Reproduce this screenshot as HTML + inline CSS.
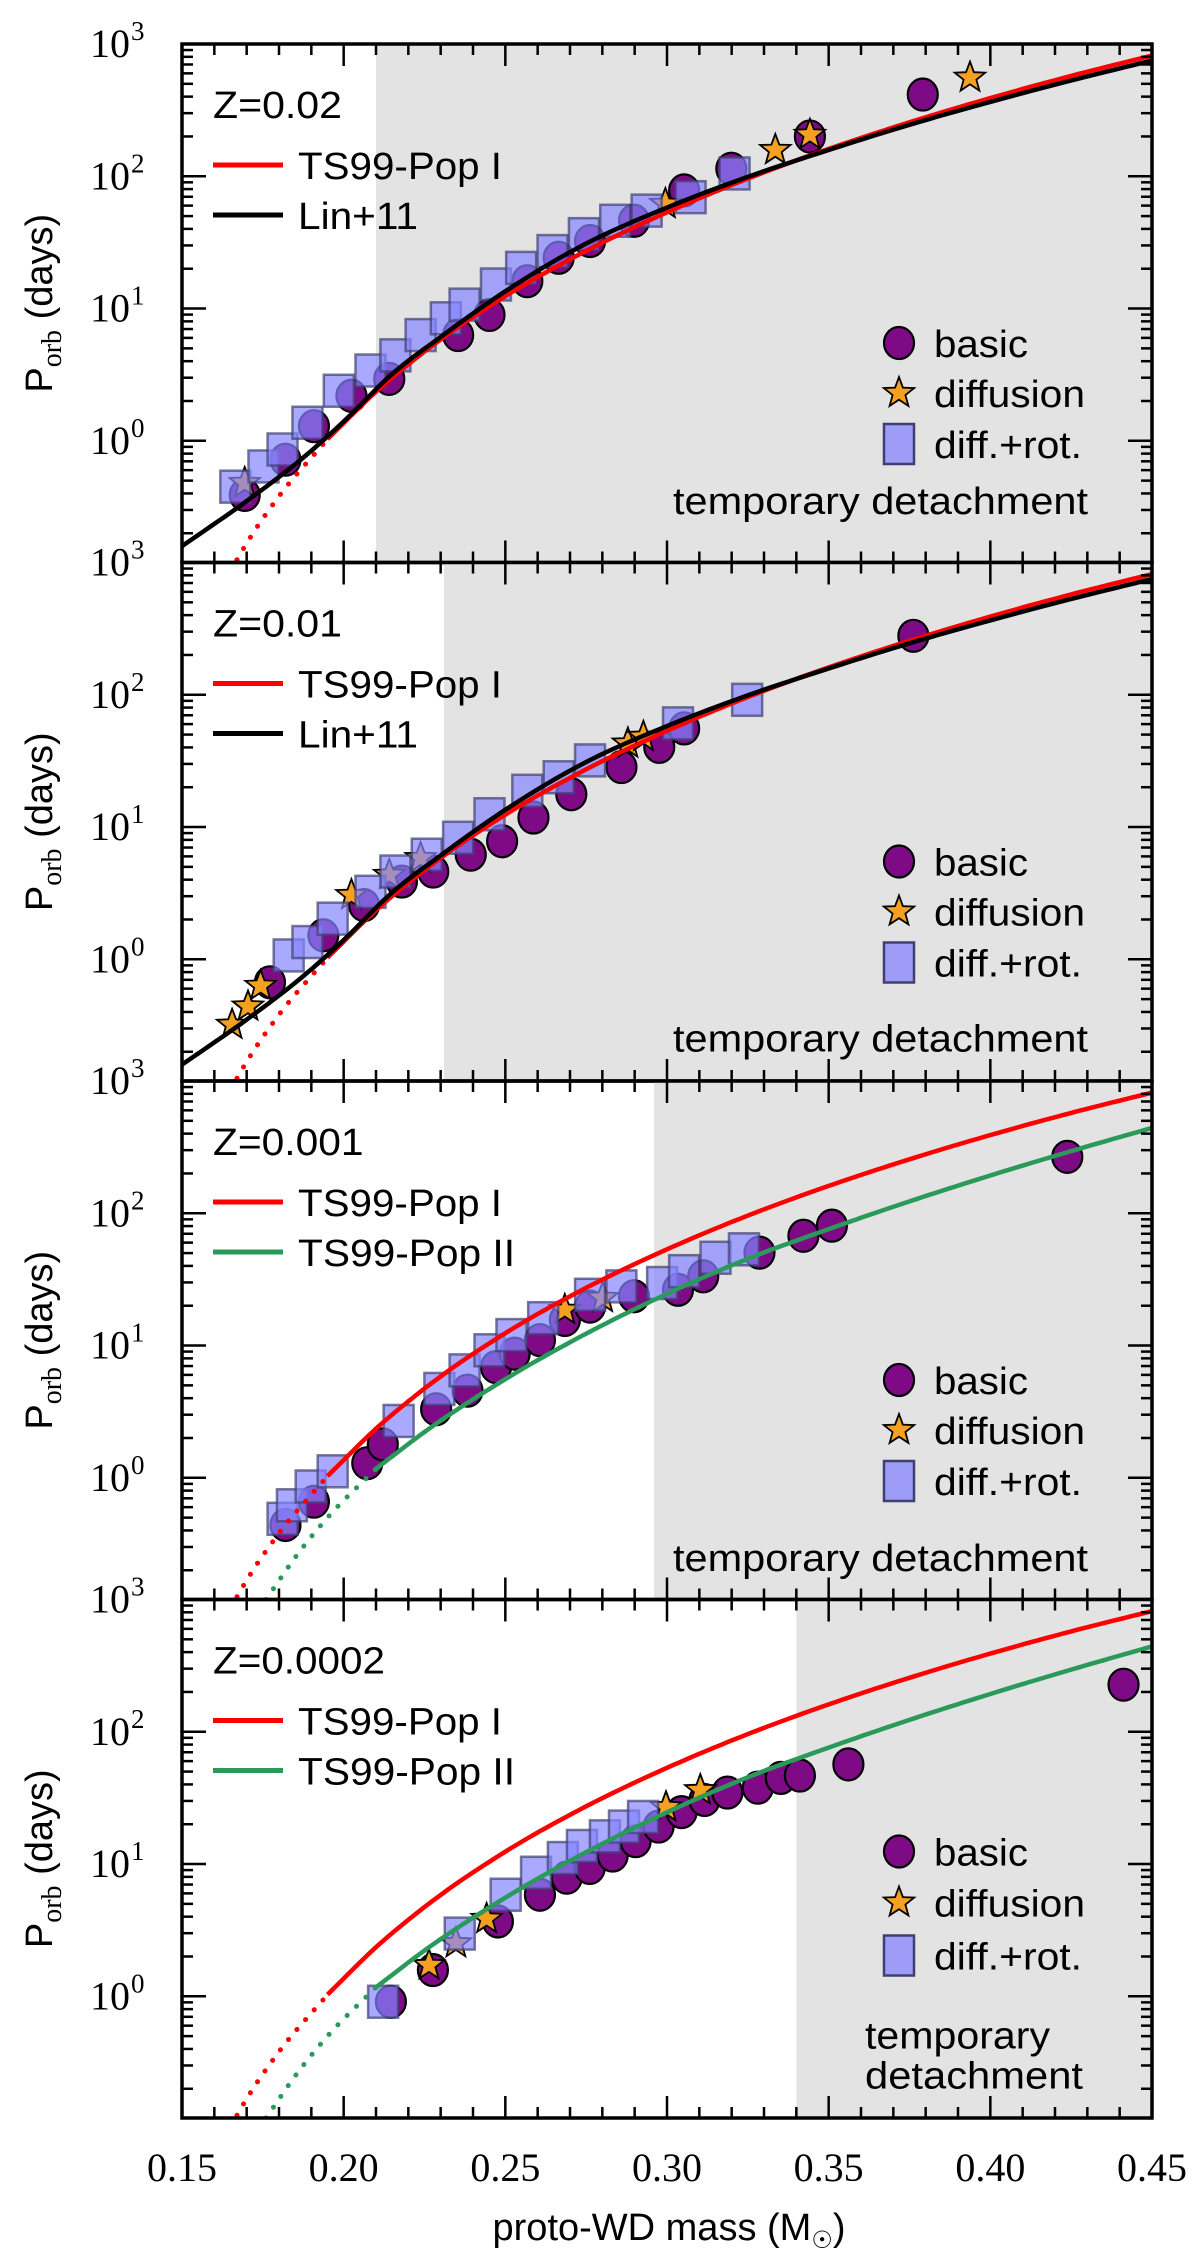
<!DOCTYPE html>
<html><head><meta charset="utf-8"><style>
html,body{margin:0;padding:0;background:#fff;}
svg{display:block;}
</style></head><body>
<svg id="fig" xmlns="http://www.w3.org/2000/svg" width="1200" height="2265" viewBox="0 0 1200 2265"></svg>
<script>
// ---------- data ----------
const xTicksMajor = [0.15,0.20,0.25,0.30,0.35,0.40,0.45];
const xTickLabels = ["0.15","0.20","0.25","0.30","0.35","0.40","0.45"];
const yTickLabels = ["3","2","1","0"];
const panelZ = ["Z=0.02","Z=0.01","Z=0.001","Z=0.0002"];
const shadeStart = [0.21,0.231,0.296,0.34];

const popIDotM = [0.167,0.17,0.18,0.195];
const popIDotP = [0.126,0.168,0.381,1.03];
const popIM = [0.195,0.21,0.225,0.25,0.275,0.30,0.325,0.35,0.375,0.40,0.425,0.45];
const popIP = [1.03,2.35,4.73,12.4,27.3,53.4,96,161,256,390,574,817];
const popIIDotM = [0.176,0.185,0.195,0.21];
const popIIDotP = [0.12,0.25,0.5,1.17];
const popIIM = [0.21,0.225,0.25,0.275,0.30,0.325,0.35,0.375,0.40,0.425,0.45];
const popIIP = [1.17,2.22,5.57,12.3,24.6,45.3,75.9,123,193,295,442];
const linM = [0.15,0.17,0.19,0.2,0.215,0.23,0.25,0.275,0.30,0.325,0.35,0.375,0.40,0.425,0.45];
const linP = [0.16,0.35,0.84,1.4,3.2,6.1,13.5,31,58,99,158,245,365,530,750];

// panel 1
const p1BasicM = [.1694,.1820,.1908,.2024,.2141,.2354,.2451,.2568,.2665,.2762,.2898,.3053,.3199,.3442,.3791];
const p1BasicP = [0.39,0.72,1.29,2.19,2.94,6.3,8.95,16.1,24.2,32.4,46.1,78.2,114,200,415];
const p1RotM = [.1665,.1752,.1811,.1888,.1985,.2083,.2160,.2238,.2316,.2374,.2471,.2549,.2646,.2743,.2840,.2937,.3073,.3209];
const p1RotP = [0.45,0.64,0.86,1.37,2.39,3.40,4.43,6.30,8.44,10.7,15.2,20.3,27.2,36.5,46.1,55.0,69.5,105];
const p1DiffM = [.1694,.2995,.3335,.3442,.3937];
const p1DiffP = [0.48,61.8,158,206,557];
// panel 2
const p2BasicM = [.1772,.1937,.2063,.2180,.2277,.2393,.2490,.2587,.2704,.2859,.2976,.3053,.3762];
const p2BasicP = [0.67,1.52,2.57,3.87,4.61,6.18,7.81,11.8,17.7,28.4,40.4,55.7,279];
const p2RotM = [.1830,.1888,.1966,.2083,.2160,.2257,.2354,.2451,.2568,.2665,.2762,.3034,.3248];
const p2RotP = [1.07,1.35,2.03,3.24,4.61,6.18,8.30,12.5,18.8,23.8,31.9,60.8,91.6];
const p2DiffM = [.1655,.1704,.1743,.2024,.2141,.2238,.2879,.2927];
const p2DiffP = [0.32,0.44,0.63,3.06,4.35,5.83,42.8,48.1];
// panel 3
const p3BasicM = [.1820,.1908,.2073,.2121,.2286,.2383,.2471,.2529,.2607,.2684,.2762,.2898,.3034,.3112,.3286,.3422,.3510,.4238];
const p3BasicP = [0.44,0.66,1.29,1.79,3.30,4.56,6.87,8.69,11.0,15.6,19.7,23.6,26.4,33.4,50.4,67.6,80.6,267];
const p3RotM = [.1811,.1840,.1898,.1966,.2170,.2296,.2374,.2451,.2519,.2617,.2762,.2859,.2985,.3053,.3150,.3238];
const p3RotP = [0.49,0.62,0.86,1.12,2.69,4.70,6.49,9.21,12.0,16.1,24.2,28.0,29.7,36.5,46.1,53.4];
const p3DiffM = [.2684,.2801];
const p3DiffP = [18.6,22.9];
// panel 4
const p4BasicM = [.2146,.2276,.2477,.2607,.2690,.2761,.2832,.2903,.2974,.3045,.3116,.3187,.3281,.3352,.3411,.3561,.4412];
const p4BasicP = [0.91,1.58,3.68,5.86,7.89,9.35,11.6,14.9,19.2,24.7,30.5,34.7,37.8,44.8,46.7,56.7,227];
const p4RotM = [.2122,.2359,.2501,.2595,.2678,.2737,.2808,.2867,.2926];
const p4RotP = [0.91,2.98,5.86,8.59,11.1,13.7,16.2,19.2,22.7];
const p4DiffM = [.2264,.2347,.2442,.2997,.3103];
const p4DiffP = [1.72,2.52,3.85,26.9,36.2];

const basicM=[p1BasicM,p2BasicM,p3BasicM,p4BasicM], basicP=[p1BasicP,p2BasicP,p3BasicP,p4BasicP];
const rotM=[p1RotM,p2RotM,p3RotM,p4RotM], rotP=[p1RotP,p2RotP,p3RotP,p4RotP];
const diffM=[p1DiffM,p2DiffM,p3DiffM,p4DiffM], diffP=[p1DiffP,p2DiffP,p3DiffP,p4DiffP];

// ---------- layout ----------
const NS="http://www.w3.org/2000/svg";
const svg=document.getElementById('fig');
const L=182,R=1152,PH=518.5,TOP0=44;
const YMAXL=3, YMINL=-0.92;
function X(m){return L+(m-0.15)/(0.45-0.15)*(R-L);}
function YL(i,lg){const t=TOP0+i*PH;return t+(YMAXL-lg)/(YMAXL-YMINL)*PH;}
function Y(i,p){return YL(i,Math.log10(p));}
function el(tag,attrs,parent){const e=document.createElementNS(NS,tag);for(const k in attrs)e.setAttribute(k,attrs[k]);(parent||svg).appendChild(e);return e;}
function curvePath(i,ms,ps){
  const n=ms.length, ls=ps.map(p=>Math.log10(p)), s=[];
  const d=[];for(let k=0;k<n-1;k++)d.push((ls[k+1]-ls[k])/(ms[k+1]-ms[k]));
  for(let k=0;k<n;k++){
    if(k===0)s.push(d[0]);else if(k===n-1)s.push(d[n-2]);
    else{const h0=ms[k]-ms[k-1],h1=ms[k+1]-ms[k];s.push((d[k-1]*h1+d[k]*h0)/(h0+h1));}
  }
  let out='';
  for(let k=0;k<n-1;k++){const h=ms[k+1]-ms[k];
    for(let j=0;j<=12;j++){if(k>0&&j===0)continue;const t=j/12,t2=t*t,t3=t2*t;
      const v=(2*t3-3*t2+1)*ls[k]+(t3-2*t2+t)*h*s[k]+(-2*t3+3*t2)*ls[k+1]+(t3-t2)*h*s[k+1];
      const x=X(ms[k]+t*h),y=YL(i,v);out+=(out?'L':'M')+x.toFixed(1)+','+y.toFixed(1);}}
  return out;}
function star(cx,cy,r){let d='';for(let k=0;k<10;k++){const a=-Math.PI/2+k*Math.PI/5,rr=k%2?r*0.42:r;d+=(k?'L':'M')+(cx+rr*Math.cos(a)).toFixed(1)+','+(cy+rr*Math.sin(a)).toFixed(1);}return d+'Z';}

const defs=el('defs',{});
for(let i=0;i<4;i++){
  const top=TOP0+i*PH;
  const cp=el('clipPath',{id:'clip'+i},defs);
  el('rect',{x:L,y:top,width:R-L,height:PH},cp);
  const g=el('g',{'clip-path':'url(#clip'+i+')'});
  
  
  const sh=el('rect',{x:X(shadeStart[i]),y:top,width:R-X(shadeStart[i]),height:PH,fill:'#e3e3e3'},g);
  
  
  basicM[i].forEach((m,k)=>{const c=el('ellipse',{cx:X(m),cy:Y(i,basicP[i][k]),rx:15,ry:16,fill:'#7e0a86',stroke:'#000','stroke-width':2.2},g);
    });
  diffM[i].forEach((m,k)=>{const s=el('path',{d:star(X(m),Y(i,diffP[i][k]),16),fill:'#f5a020',stroke:'#000','stroke-width':1.8},g);
    });
  rotM[i].forEach((m,k)=>{const s=el('rect',{x:X(m)-15,y:Y(i,rotP[i][k])-16,width:30,height:32,fill:'#8585ff','fill-opacity':0.7,stroke:'#404070','stroke-opacity':0.7,'stroke-width':2.5},g);
    });
  const dotted={fill:'none','stroke-width':5,'stroke-linecap':'round','stroke-dasharray':'0.1 13'};
  const solid={fill:'none','stroke-width':4.5,'stroke-linejoin':'round'};
  let c=el('path',Object.assign({d:curvePath(i,popIDotM,popIDotP),stroke:'#ff0000'},dotted),g);
  
  c=el('path',Object.assign({d:curvePath(i,popIM,popIP),stroke:'#ff0000'},solid),g);
  
  if(i<2){
    c=el('path',Object.assign({d:curvePath(i,linM,linP),stroke:'#000'},solid),g);
    
  } else {
    c=el('path',Object.assign({d:curvePath(i,popIIDotM,popIIDotP),stroke:'#2a9a5a'},dotted),g);
    
    c=el('path',Object.assign({d:curvePath(i,popIIM,popIIP),stroke:'#2a9a5a'},solid),g);
    
  }
  const tk=el('g',{stroke:'#000','stroke-width':2.5});
  
  for(let j=0;j<=30;j++){const m=0.15+j*0.01,x=X(m),len=(j%5===0)?22:11;
    el('line',{x1:x,y1:top,x2:x,y2:top+len},tk);el('line',{x1:x,y1:top+PH,x2:x,y2:top+PH-len},tk);}
  for(let d=-1;d<=3;d++)for(let k=1;k<=9;k++){const p=k*Math.pow(10,d),lg=Math.log10(p);if(lg<YMINL||lg>YMAXL)continue;
    const y=Y(i,p),len=(k===1)?24:11;
    el('line',{x1:L,y1:y,x2:L+len,y2:y},tk);el('line',{x1:R,y1:y,x2:R-len,y2:y},tk);}
  const fr=el('rect',{x:L,y:top,width:R-L,height:PH,fill:'none',stroke:'#000','stroke-width':3.5});
  
  yTickLabels.forEach((e,k)=>{const y=Y(i,Math.pow(10,+e));
    const t=el('text',{x:130,y:y+13,'text-anchor':'end','font-family':'Liberation Serif, serif','font-size':40});
    t.textContent='10';
    const s=el('text',{x:131,y:y-4,'font-family':'Liberation Serif, serif','font-size':27});
    s.textContent=e;});
  const yt=el('text',{transform:'translate(52,'+(top+PH/2)+') rotate(-90)','text-anchor':'middle','font-family':'Liberation Sans, sans-serif','font-size':38});
  
  yt.innerHTML='P<tspan font-family="Liberation Serif, serif" font-size="28" dy="9">orb</tspan><tspan dy="-9"> (days)</tspan>';
  const fs={'font-family':'Liberation Sans, sans-serif','font-size':38};
  let t=el('text',Object.assign({x:213,y:top+74,textLength:panelZ[i].length*21.5,lengthAdjust:'spacingAndGlyphs'},fs));
  t.textContent=panelZ[i];
  const ly=[top+121,top+171];
  const names=i<2?['TS99-Pop I','Lin+11']:['TS99-Pop I','TS99-Pop II'];
  const cols=i<2?['#ff0000','#000']:['#ff0000','#2a9a5a'];
  const widths=i<2?[204,120]:[204,217];
  for(let k=0;k<2;k++){
    const ln=el('line',{x1:213,y1:ly[k],x2:283,y2:ly[k],stroke:cols[k],'stroke-width':5});
    
    t=el('text',Object.assign({x:298,y:ly[k]+14,textLength:widths[k],lengthAdjust:'spacingAndGlyphs'},fs));
    t.textContent=names[k];
  }
  const ry=i<3?[top+299,top+349,top+400]:[top+252,top+303,top+356];
  let mk=el('ellipse',{cx:899,cy:ry[0],rx:15,ry:16,fill:'#7e0a86',stroke:'#000','stroke-width':2.2});
  
  mk=el('path',{d:star(899,ry[1],16),fill:'#f5a020',stroke:'#000','stroke-width':1.8});
  
  mk=el('rect',{x:884,y:ry[2]-20,width:30,height:40,fill:'#8585ff','fill-opacity':0.75,stroke:'#404070','stroke-width':2.5});
  
  [['basic',94],['diffusion',151],['diff.+rot.',148]].forEach((a,k)=>{
    t=el('text',Object.assign({x:934,y:ry[k]+14,textLength:a[1],lengthAdjust:'spacingAndGlyphs'},fs));
    t.textContent=a[0];});
  if(i<3){
    t=el('text',Object.assign({x:673,y:top+(i===0?470:i===1?489:490),textLength:415,lengthAdjust:'spacingAndGlyphs'},fs));
    t.textContent='temporary detachment';
  } else {
    t=el('text',Object.assign({x:865,y:top+449,textLength:185,lengthAdjust:'spacingAndGlyphs'},fs));
    t.textContent='temporary';
    t=el('text',Object.assign({x:865,y:top+489,textLength:218,lengthAdjust:'spacingAndGlyphs'},fs));
    t.textContent='detachment';
  }
}
xTicksMajor.forEach((m,k)=>{const t=el('text',{x:X(m),y:2181,'text-anchor':'middle','font-family':'Liberation Serif, serif','font-size':40});
  t.textContent=xTickLabels[k];});
const xt=el('text',{x:669,y:2240,'text-anchor':'middle','font-family':'Liberation Sans, sans-serif','font-size':38});

xt.innerHTML='proto-WD mass (M<tspan font-size="24" dy="8">☉</tspan><tspan dy="-8">)</tspan>';
</script>
</body></html>
